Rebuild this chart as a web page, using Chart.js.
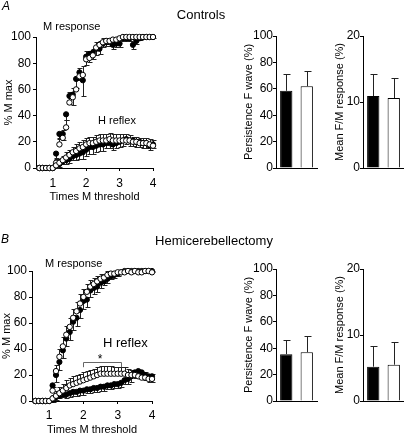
<!DOCTYPE html>
<html><head><meta charset="utf-8">
<script src="https://cdn.jsdelivr.net/npm/chart.js@4"></script>
<style>
html,body{margin:0;padding:0;background:#fff;}
#wrap{position:relative;width:404px;height:435px;overflow:hidden;font-family:"Liberation Sans",Arial,sans-serif;color:#000;background:#fff;}
canvas{position:absolute;left:0;top:0;}
.t{position:absolute;white-space:nowrap;line-height:1;}
.c{transform:translateX(-50%);}
</style></head>
<body><div id="wrap">
<canvas id="cA" width="404" height="460"></canvas>
<canvas id="cA2" width="404" height="460"></canvas>
<canvas id="cA3" width="404" height="460"></canvas>
<canvas id="cB" width="404" height="460"></canvas>
<canvas id="cB2" width="404" height="460"></canvas>
<canvas id="cB3" width="404" height="460"></canvas>
<div class="t" style="left:2px;top:0px;font-size:12px;font-style:italic;">A</div>
<div class="t c" style="left:201px;top:8px;font-size:13px;">Controls</div>
<div class="t" style="left:1px;top:233px;font-size:12px;font-style:italic;">B</div>
<div class="t c" style="left:214px;top:234px;font-size:13px;">Hemicerebellectomy</div>
<div class="t" style="left:43px;top:21px;font-size:11px;">M response</div>
<div class="t" style="left:98px;top:115px;font-size:11px;">H reflex</div>
<div class="t" style="left:45px;top:258px;font-size:11px;">M response</div>
<div class="t" style="left:103px;top:336px;font-size:13px;">H reflex</div>
<div class="t c" style="left:100px;top:353px;font-size:12px;">*</div>
</div>
<script>
// ---- data ----
const xVals = [0.6,0.7,0.8,0.9,1.0, 1.1,1.2,1.3,1.4,1.5, 1.6,1.7,1.8,1.9,2.0, 2.1,2.2,2.3,2.4,2.5, 2.6,2.7,2.8,2.9,3.0, 3.1,3.2,3.3,3.4,3.5, 3.6,3.7,3.8,3.9,4.0];
const xTicks = [1,2,3,4];
const mTicks = [0,20,40,60,80,100];

// Panel A (Controls)
const aMFilled = [0,0,0,0,0, 11,26,26,41,55, 56,68,73,67,85, 87,88,91,91,95, 96,96,94,95,95, 99,99,99,94,97, 99,100,100,100,100];
const aMFilledErr = [0,0,0,0,0, 3,4,5,4,6, 8,7,6,12,6, 6,5,5,4,3, 3,3,3,3,3, 2,2,2,3,2, 1,1,1,1,1];
const aMOpen = [0,0,0,0,0, 4,18,23,31,50, 54,60,70,71,83, 84,86,92,94,96, 97,97,98,98,99, 100,100,100,100,100, 100,100,100,100,100];
const aMOpenErr = [0,0,0,0,0, 3,5,6,6,8, 7,8,6,7,6, 5,5,4,3,3, 2,2,2,1,1, 1,1,1,1,1, 0,0,0,0,0];
const aHFilled = [0,0,0,0,0, 2,3,5,6,7, 9,10,11,12,14, 16,16,17,18,18, 19,19,18,19,20, 21,22,21,21,20, 20,19,19,17,18];
const aHFilledErr = [0,0,0,0,0, 2,2,2,3,3, 3,4,4,5,5, 5,5,5,5,5, 4,4,4,4,4, 4,4,4,4,4, 4,4,4,3,3];
const aHOpen = [0,0,0,0,0, 2,4,6,8,10, 12,13,15,16,18, 19,19,20,21,21, 21,22,21,21,21, 21,21,21,20,20, 19,19,19,18,17];
const aHOpenErr = [0,0,0,0,0, 2,3,3,4,4, 4,5,5,5,5, 5,5,5,5,5, 5,5,5,5,5, 5,5,4,4,4, 4,4,4,4,4];

// Panel B (Hemicerebellectomy)
const bMFilled = [0,0,0,0,0, 12,20,30,39,48, 53,61,64,70,77, 78,85,87,88,91, 92,94,96,97,98, 99,100,100,100,100, 100,100,100,100,100];
const bMFilledErr = [0,0,0,0,0, 4,5,6,6,6, 6,6,6,6,6, 6,5,5,4,4, 3,3,2,2,2, 1,1,1,1,1, 1,1,1,1,1];
const bMOpen = [0,0,0,0,0, 8,23,34,42,51, 57,64,69,75,80, 84,88,90,92,94, 95,97,98,98,99, 99,99,100,99,100, 99,99,100,100,99];
const bMOpenErr = [0,0,0,0,0, 3,5,6,7,7, 7,7,7,7,6, 6,5,5,4,4, 3,3,2,2,2, 1,1,1,1,1, 1,1,1,1,1];
const bHFilled = [0,0,0,0,0, 1,3,4,5,5, 6,7,7,8,8, 9,9,10,10,11, 11,12,12,13,13, 14,16,17,19,22, 23,22,20,19,19];
const bHFilledErr = [0,0,0,0,0, 2,2,2,2,3, 3,3,3,3,3, 3,3,3,3,3, 3,3,3,3,3, 3,3,4,4,4, 4,4,4,4,4];
const bHOpen = [0,0,0,0,0, 2,4,6,8,10, 12,13,14,15,16, 17,18,19,20,21, 21,21,21,21,21, 21,21,20,20,20, 19,18,18,17,17];
const bHOpenErr = [0,0,0,0,0, 3,4,5,5,6, 6,6,6,6,6, 6,6,6,6,6, 6,6,6,5,5, 5,5,5,4,4, 4,4,4,4,4];

// Bar panels: [filled, open]
const barCats = ['filled','open'];
const aPersist = [58.5, 62];
const aPersistErr = [12.7, 11.3];
const aFM = [10.9, 10.6];
const aFMErr = [3.4, 3.1];
const bPersist = [35.5, 37];
const bPersistErr = [11, 12];
const bFM = [5.2, 5.5];
const bFMErr = [3.2, 3.5];
const bracket = {x0: 2.0, x1: 3.1, y: 30, yTick: 26};

// ---- rendering ----
const FAM = '"Liberation Sans", Arial, sans-serif';
Chart.defaults.font.family = FAM;
Chart.defaults.color = '#000';
const CW = 404, CH = 460;

const errPlugin = {
  id: 'errbars',
  beforeDatasetsDraw(chart) {
    const ctx = chart.ctx, ys = chart.scales.y;
    ctx.save();
    ctx.strokeStyle = '#222';
    ctx.lineWidth = 1;
    chart.data.datasets.forEach((ds, di) => {
      if (!ds.errs) return;
      const meta = chart.getDatasetMeta(di);
      const cap = ds.cap || 2;
      meta.data.forEach((el, i) => {
        const e = ds.errs[i];
        if (!e) return;
        const raw = ds.data[i];
        const v = (typeof raw === 'object') ? raw.y : raw;
        const px = Math.round(el.x) + 0.5;
        const p0 = ys.getPixelForValue(v);
        const p1 = Math.round(ys.getPixelForValue(v + ds.errDir * e)) + 0.5;
        ctx.beginPath();
        ctx.moveTo(px, p0); ctx.lineTo(px, p1);
        ctx.moveTo(px - cap, p1); ctx.lineTo(px + cap + 1, p1);
        ctx.stroke();
      });
    });
    ctx.restore();
  }
};

const bracketPlugin = {
  id: 'bracket',
  afterDatasetsDraw(chart, args, opts) {
    if (!opts || !opts.show) return;
    const ctx = chart.ctx, xs = chart.scales.x, ys = chart.scales.y;
    const xa = Math.round(xs.getPixelForValue(bracket.x0)) + 0.5;
    const xb = Math.round(xs.getPixelForValue(bracket.x1)) + 0.5;
    const ya = Math.round(ys.getPixelForValue(bracket.y)) + 0.5;
    const yb = ys.getPixelForValue(bracket.yTick);
    ctx.save();
    ctx.strokeStyle = '#666'; ctx.lineWidth = 1;
    ctx.beginPath();
    ctx.moveTo(xa, yb); ctx.lineTo(xa, ya); ctx.lineTo(xb, ya); ctx.lineTo(xb, yb);
    ctx.stroke();
    ctx.restore();
  }
};

function pts(arr) { return xVals.map((x, i) => ({x: x, y: arr[i]})); }

function lineChart(id, r, W, H, ds, tickPadX, yTitlePad, showBracket) {
  new Chart(document.getElementById(id), {
    type: 'scatter',
    data: {datasets: [
      {data: pts(ds.hOpen), errs: ds.hOpenErr, errDir: 1, pointRadius: 2.7, pointBackgroundColor: '#fff', pointBorderColor: '#000', pointBorderWidth: 1, clip: false},
      {data: pts(ds.mOpen), errs: ds.mOpenErr, errDir: 1, pointRadius: 2.7, pointBackgroundColor: '#fff', pointBorderColor: '#000', pointBorderWidth: 1, clip: false},
      {data: pts(ds.hFilled), errs: ds.hFilledErr, errDir: -1, pointRadius: 2.6, pointBackgroundColor: '#000', pointBorderColor: '#000', pointBorderWidth: 1, clip: false},
      {data: pts(ds.mFilled), errs: ds.mFilledErr, errDir: -1, pointRadius: 2.6, pointBackgroundColor: '#000', pointBorderColor: '#000', pointBorderWidth: 1, clip: false}
    ]},
    options: {
      responsive: false, animation: false, devicePixelRatio: 1,
      layout: {padding: {left: r.x0 - W, top: r.y0, right: CW - r.x1, bottom: CH - r.y1 - H}},
      plugins: {legend: {display: false}, tooltip: {enabled: false}, bracket: {show: showBracket}},
      scales: {
        x: {type: 'linear', min: 0.5, max: 4,
          afterBuildTicks: s => { s.ticks = xTicks.map(v => ({value: v})); },
          afterFit: s => { s.height = H; },
          grid: {display: true, drawOnChartArea: false, drawTicks: true, tickLength: 3, color: '#000'},
          border: {display: true, color: '#000', width: 1},
          ticks: {color: '#000', font: {size: 12}, padding: tickPadX, maxRotation: 0, autoSkip: false},
          title: {display: true, text: 'Times M threshold', color: '#000', font: {size: 11}, padding: 0}
        },
        y: {type: 'linear', min: 0, max: 100,
          afterBuildTicks: s => { s.ticks = mTicks.map(v => ({value: v})); },
          afterFit: s => { s.width = W; },
          grid: {display: true, drawOnChartArea: false, drawTicks: true, tickLength: 3, color: '#000'},
          border: {display: true, color: '#000', width: 1},
          ticks: {color: '#000', font: {size: 12}, padding: 2},
          title: {display: true, text: '% M max', color: '#000', font: {size: 11}, padding: {top: yTitlePad, bottom: 0}}
        }
      }
    },
    plugins: [errPlugin, bracketPlugin]
  });
}

function barChart(id, r, W, vals, errs, yMax, yTickVals, title) {
  new Chart(document.getElementById(id), {
    type: 'bar',
    data: {labels: barCats, datasets: [{
      data: vals, errs: errs, errDir: 1, cap: 3,
      backgroundColor: ['#000', '#fff'], borderColor: '#000', borderWidth: 1,
      categoryPercentage: 1, barPercentage: 0.6
    }]},
    options: {
      responsive: false, animation: false, devicePixelRatio: 1,
      layout: {padding: {left: r.x0 - W, top: r.y0, right: CW - r.x1, bottom: CH - r.y1 - 10}},
      plugins: {legend: {display: false}, tooltip: {enabled: false}},
      scales: {
        x: {type: 'category', offset: true,
          afterFit: s => { s.height = 10; },
          grid: {display: true, drawOnChartArea: false, drawTicks: false},
          border: {display: true, color: '#000', width: 1},
          ticks: {display: false}
        },
        y: {type: 'linear', min: 0, max: yMax,
          afterBuildTicks: s => { s.ticks = yTickVals.map(v => ({value: v})); },
          afterFit: s => { s.width = W; },
          grid: {display: true, drawOnChartArea: false, drawTicks: true, tickLength: 3, color: '#000'},
          border: {display: true, color: '#000', width: 1},
          ticks: {color: '#000', font: {size: 12}, padding: 0},
          title: {display: true, text: title, color: '#000', font: {size: 11}, padding: {top: 0, bottom: 0}}
        }
      }
    },
    plugins: [errPlugin]
  });
}

lineChart('cA', {x0: 36, x1: 153, y0: 37, y1: 168}, 36, 36,
  {mFilled: aMFilled, mFilledErr: aMFilledErr, mOpen: aMOpen, mOpenErr: aMOpenErr,
   hFilled: aHFilled, hFilledErr: aHFilledErr, hOpen: aHOpen, hOpenErr: aHOpenErr}, 5, 2, false);
lineChart('cB', {x0: 32, x1: 152, y0: 271, y1: 401}, 32, 36,
  {mFilled: bMFilled, mFilledErr: bMFilledErr, mOpen: bMOpen, mOpenErr: bMOpenErr,
   hFilled: bHFilled, hFilledErr: bHFilledErr, hOpen: bHOpen, hOpenErr: bHOpenErr}, 4, 0, true);

barChart('cA2', {x0: 276, x1: 317, y0: 36, y1: 168}, 34, aPersist, aPersistErr, 100, [0,20,40,60,80,100], 'Persistence F wave (%)');
barChart('cA3', {x0: 363, x1: 404, y0: 36, y1: 168}, 30, aFM, aFMErr, 20, [0,10,20], 'Mean F/M response (%)');
barChart('cB2', {x0: 276, x1: 317, y0: 269, y1: 401}, 34, bPersist, bPersistErr, 100, [0,20,40,60,80,100], 'Persistence F wave (%)');
barChart('cB3', {x0: 363, x1: 404, y0: 269, y1: 401}, 30, bFM, bFMErr, 20, [0,10,20], 'Mean F/M response (%)');
</script>
</body></html>
